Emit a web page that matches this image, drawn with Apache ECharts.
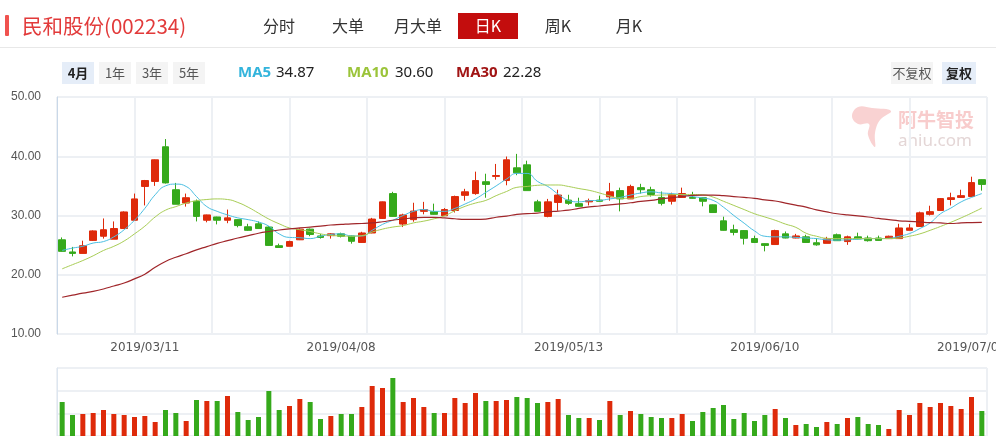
<!DOCTYPE html>
<html><head><meta charset="utf-8">
<script src="https://cdn.jsdelivr.net/npm/echarts@6/dist/echarts.min.js"></script>
<style>html,body{margin:0;padding:0;background:#fff}#c{width:996px;height:436px}</style>
</head><body><div id="c"></div>
<script>
const dates = [
'2019/02/27','2019/02/28',
'2019/03/01','2019/03/04','2019/03/05','2019/03/06','2019/03/07','2019/03/08','2019/03/11','2019/03/12','2019/03/13','2019/03/14','2019/03/15','2019/03/18','2019/03/19','2019/03/20','2019/03/21','2019/03/22','2019/03/25','2019/03/26','2019/03/27','2019/03/28','2019/03/29',
'2019/04/01','2019/04/02','2019/04/03','2019/04/04','2019/04/08','2019/04/09','2019/04/10','2019/04/11','2019/04/12','2019/04/15','2019/04/16','2019/04/17','2019/04/18','2019/04/19','2019/04/22','2019/04/23','2019/04/24','2019/04/25','2019/04/26','2019/04/29','2019/04/30',
'2019/05/06','2019/05/07','2019/05/08','2019/05/09','2019/05/10','2019/05/13','2019/05/14','2019/05/15','2019/05/16','2019/05/17','2019/05/20','2019/05/21','2019/05/22','2019/05/23','2019/05/24','2019/05/27','2019/05/28','2019/05/29','2019/05/30','2019/05/31',
'2019/06/03','2019/06/04','2019/06/05','2019/06/06','2019/06/10','2019/06/11','2019/06/12','2019/06/13','2019/06/14','2019/06/17','2019/06/18','2019/06/19','2019/06/20','2019/06/21','2019/06/24','2019/06/25','2019/06/26','2019/06/27','2019/06/28',
'2019/07/01','2019/07/02','2019/07/03','2019/07/04','2019/07/05','2019/07/08','2019/07/09'
];
const xLabels = ['2019/03/11','2019/04/08','2019/05/13','2019/06/10','2019/07/08'];

const opens = [25.9,23.85,23.6,25.8,26.5,26.0,27.8,29.2,34.9,35.75,41.6,34.35,32.1,32.4,29.2,29.75,29.2,29.3,28.1,28.6,28.05,24.9,24.8,
25.9,27.7,26.55,26.6,26.9,26.55,25.45,27.05,29.5,33.7,28.55,29.3,30.7,30.65,29.95,30.85,33.4,33.7,35.7,36.6,35.9,38.05,38.55,
32.3,29.85,32.2,32.6,32.0,32.3,32.6,33.15,34.2,32.8,34.7,34.35,33.05,32.4,33.05,33.05,33.0,31.8,29.1,27.6,27.45,26.1,
25.25,25.1,26.9,26.2,26.4,25.4,25.3,26.75,25.6,26.4,26.2,26.2,26.1,26.1,27.5,28.15,30.2,30.85,32.7,33.05,33.2,36.05];
const closes = [23.95,23.6,24.9,27.4,27.6,27.8,30.6,32.8,35.9,39.4,35.5,31.9,33.0,29.85,30.1,29.2,29.6,28.3,27.5,27.8,24.95,24.6,25.6,
27.7,26.8,26.3,26.9,26.5,25.65,27.05,29.4,32.3,29.85,30.1,30.75,31.0,30.2,31.0,33.2,34.0,35.9,35.25,36.75,39.4,37.2,34.2,
30.7,32.3,33.45,32.05,31.55,32.5,32.4,34.0,32.8,34.9,34.35,33.55,32.05,33.55,33.7,32.9,32.4,30.5,27.5,27.15,26.15,25.45,
24.95,27.45,26.2,26.55,25.45,25.05,26.05,25.75,26.4,26.05,25.75,25.8,26.5,27.9,27.9,30.45,30.65,32.85,33.0,33.35,35.55,35.25];
const lows = [23.9,23.1,23.6,25.7,26.1,26.0,27.8,29.1,31.7,35.0,35.4,31.9,31.5,29.0,28.85,28.5,28.7,28.0,27.4,27.8,24.9,24.55,24.8,
25.85,26.5,26.1,26.1,26.3,25.25,25.4,27.0,29.45,29.8,28.05,28.95,30.2,30.15,29.95,30.5,32.5,33.5,33.0,36.05,35.1,36.8,34.2,
30.7,29.7,30.8,31.8,31.5,31.7,32.35,32.5,30.7,32.8,33.7,33.2,31.7,31.85,33.0,32.85,31.55,30.45,27.45,26.65,25.1,25.35,
23.95,25.1,26.15,26.15,25.4,24.9,25.3,25.7,25.05,26.0,25.6,25.75,26.1,26.1,27.5,28.1,30.0,30.8,31.7,33.0,33.15,34.2];
const highs = [26.3,24.7,25.75,27.5,29.5,29.0,30.7,33.7,36.0,39.45,42.9,35.5,33.7,32.7,30.15,29.8,31.0,29.35,28.6,29.0,28.2,25.25,25.75,
27.85,27.8,26.9,27.0,27.1,26.6,27.25,29.6,32.35,34.0,30.3,32.15,32.3,32.0,31.25,33.35,34.5,37.4,37.05,38.7,39.95,40.4,39.25,
32.65,32.8,34.35,33.5,33.0,32.85,33.35,35.5,34.7,35.2,35.35,34.85,34.05,33.85,34.7,34.0,33.05,31.85,29.8,28.45,27.5,26.6,
25.3,27.6,27.3,26.9,26.75,26.15,26.4,26.95,26.6,27.1,26.6,26.6,26.6,28.6,28.55,30.65,31.65,32.95,33.85,34.35,36.55,36.1];

const volumes = [102,63,66,69,78,66,63,57,60,42,78,69,45,108,105,105,120,72,48,57,135,78,90,111,102,51,60,66,66,87,
150,144,174,102,114,87,69,69,114,99,129,105,105,108,117,114,99,102,111,63,54,54,48,105,63,75,66,57,54,54,
66,45,72,84,93,51,69,45,63,81,54,33,36,27,42,36,54,57,36,33,21,78,63,99,87,99,90,81,117,75];

const ma5 = [24.1,24.5,24.8,25.35,25.6,26.4,27.6,29.2,31.2,33.5,35.0,35.3,34.9,33.2,31.5,30.7,30.1,29.6,29.3,28.9,28.2,26.9,26.3,
26.25,26.1,26.5,26.8,26.9,26.55,26.55,27.5,28.5,29.2,30.0,30.7,31.0,30.7,30.7,31.2,31.95,32.8,33.9,35.0,36.15,37.1,37.1,
35.75,34.9,33.6,32.55,32.3,32.5,32.55,32.8,33.05,33.45,33.8,34.0,33.8,33.7,33.5,33.2,32.95,32.55,31.4,30.0,28.7,27.4,
26.5,26.4,26.4,26.3,26.2,26.1,25.9,25.85,25.9,26.0,26.1,26.1,26.15,26.5,26.95,27.8,28.75,30.3,31.25,32.3,33.05,33.7];
const ma10 = [21.0,21.7,22.4,23.2,24.1,24.8,25.7,26.9,28.2,29.75,30.9,31.5,32.1,32.5,32.7,32.8,32.7,32.2,31.4,30.4,29.4,28.6,27.9,
27.6,27.3,26.9,26.65,26.55,26.5,26.6,27.2,27.7,28.05,28.3,28.75,29.05,29.45,29.95,30.8,31.55,32.1,32.55,33.35,34.05,34.75,34.9,
35.1,35.15,35.15,34.9,34.55,34.25,33.8,33.3,32.9,32.9,33.2,33.35,33.45,33.5,33.55,33.55,33.5,33.1,32.4,31.7,31.0,30.3,
29.75,29.2,28.55,28.0,27.0,26.5,26.15,26.1,26.1,26.1,26.1,26.1,26.1,26.2,26.5,26.9,27.5,28.15,28.85,29.6,30.4,31.25];
const ma30 = [16.2,16.55,16.9,17.2,17.6,18.1,18.6,19.3,20.1,21.25,22.25,22.95,23.55,24.2,24.75,25.3,25.75,26.2,26.6,27.0,27.3,27.55,27.75,
27.9,28.05,28.2,28.4,28.5,28.6,28.65,28.75,28.95,29.2,29.4,29.6,29.7,29.7,29.6,29.45,29.35,29.35,29.4,29.7,29.9,30.2,30.3,
30.4,30.6,30.75,30.9,31.2,31.45,31.6,31.8,31.95,32.15,32.4,32.55,32.8,33.0,33.2,33.4,33.45,33.45,33.35,33.2,33.05,32.9,
32.65,32.45,32.1,31.75,31.4,30.95,30.6,30.3,30.1,29.95,29.75,29.5,29.3,29.1,29.0,28.9,28.8,28.75,28.65,28.75,28.8,28.85];

const RED = '#de2a0a', GREEN = '#35a91b';
const chart = echarts.init(document.getElementById('c'), null, {renderer: 'canvas'});

const candleData = dates.map((d, i) => [opens[i], closes[i], lows[i], highs[i]]);
const volData = volumes.map((v, i) => ({value: v, itemStyle: {color: closes[i] >= opens[i] ? RED : GREEN}}));
const GRIDC = '#edf0f4';
const CJK = '"Noto Sans CJK SC", "Noto Sans", sans-serif';

const btn = (x, w, label, active) => [
  {type: 'rect', shape: {x: x, y: 62, width: w, height: 22}, style: {fill: active ? '#e5edf8' : '#f4f4f4'}},
  {type: 'text', x: x + w / 2, y: 73, style: {text: label, font: (active ? 'bold ' : '') + '13px ' + CJK, fill: active ? '#222' : '#555', textAlign: 'center', textVerticalAlign: 'middle'}}
];
const tab = (cx, label) => ({type: 'text', x: cx, y: 26, style: {text: label, font: '16px ' + CJK, fill: '#333', textAlign: 'center', textVerticalAlign: 'middle'}});

const option = {
  animation: false,
  backgroundColor: '#fff',
  grid: [
    {left: 57, right: 9, top: 97, height: 237, outerBoundsMode: 'none', containLabel: false},
    {left: 57, right: 9, top: 368, height: 68, outerBoundsMode: 'none', containLabel: false}
  ],
  xAxis: [
    {type: 'category', gridIndex: 0, data: dates, boundaryGap: true,
      axisLine: {show: false}, axisTick: {show: false}, splitLine: {show: false},
      axisLabel: {interval: (i, v) => xLabels.indexOf(v) >= 0, color: '#555', fontSize: 12, margin: 8, fontFamily: 'DejaVu Sans', hideOverlap: false}},
    {type: 'value', gridIndex: 0, min: 0, max: 12, interval: 1, position: 'top',
      axisLine: {show: false}, axisTick: {show: false}, axisLabel: {show: false},
      splitLine: {show: true, lineStyle: {color: GRIDC, width: 2}}},
    {type: 'category', gridIndex: 1, data: dates, boundaryGap: true,
      axisLine: {show: false}, axisTick: {show: false}, axisLabel: {show: false}, splitLine: {show: false}},
    {type: 'value', gridIndex: 1, min: 0, max: 1, interval: 1, position: 'top',
      axisLine: {show: false}, axisTick: {show: false}, axisLabel: {show: false},
      splitLine: {show: true, lineStyle: {color: GRIDC, width: 2}}}
  ],
  yAxis: [
    {type: 'value', gridIndex: 0, min: 10, max: 50, interval: 10,
      axisLine: {show: true, lineStyle: {color: '#c9d8e8', width: 1}}, axisTick: {show: false},
      axisLabel: {formatter: v => v.toFixed(2), align: 'left', margin: 46, color: '#555', fontSize: 12, fontFamily: 'Liberation Sans'},
      splitLine: {show: true, lineStyle: {color: GRIDC, width: 2}}},
    {type: 'value', gridIndex: 1, min: 0, max: 204, interval: 68,
      axisLine: {show: true, lineStyle: {color: '#dde6f0', width: 1}}, axisTick: {show: false}, axisLabel: {show: false},
      splitLine: {show: true, lineStyle: {color: GRIDC, width: 2}}}
  ],
  series: [
    {type: 'candlestick', name: 'K', xAxisIndex: 0, yAxisIndex: 0, data: candleData, barWidth: 7,
      itemStyle: {color: RED, color0: GREEN, borderColor: RED, borderColor0: GREEN, borderWidth: 1}},
    {type: 'line', name: 'MA5', xAxisIndex: 0, yAxisIndex: 0, data: ma5, smooth: true, symbol: 'none',
      lineStyle: {color: '#4bbfe2', width: 1}},
    {type: 'line', name: 'MA10', xAxisIndex: 0, yAxisIndex: 0, data: ma10, smooth: true, symbol: 'none',
      lineStyle: {color: '#a8cd55', width: 1}},
    {type: 'line', name: 'MA30', xAxisIndex: 0, yAxisIndex: 0, data: ma30, smooth: true, symbol: 'none',
      lineStyle: {color: '#a0262a', width: 1.2}},
    {type: 'bar', name: 'VOL', xAxisIndex: 2, yAxisIndex: 1, data: volData, barWidth: 5}
  ],
  graphic: [
    // header
    {type: 'rect', shape: {x: 5, y: 15, width: 4, height: 21, r: 1}, style: {fill: '#f0524f'}},
    {type: 'text', x: 22, y: 26, style: {text: '民和股份(002234)', font: '20.5px ' + CJK, fill: '#e23a3a', textVerticalAlign: 'middle'}},
    tab(279, '分时'), tab(348, '大单'), tab(418, '月大单'),
    {type: 'rect', shape: {x: 458, y: 13, width: 60, height: 26}, style: {fill: '#c30d0d'}},
    {type: 'text', x: 488, y: 26, style: {text: '日K', font: '16px ' + CJK, fill: '#fff', textAlign: 'center', textVerticalAlign: 'middle'}},
    tab(558, '周K'), tab(629, '月K'),
    {type: 'line', shape: {x1: 0, y1: 47.5, x2: 996, y2: 47.5}, style: {stroke: '#e8e8e8', lineWidth: 1}},
    // toolbar
    ...btn(62, 32, '4月', true), ...btn(99, 32, '1年', false), ...btn(136, 32, '3年', false), ...btn(173, 32, '5年', false),
    {type: 'text', x: 238, y: 73, style: {text: 'MA5', font: 'bold 15px "Noto Sans", sans-serif', fill: '#33b4dc', textVerticalAlign: 'middle'}},
    {type: 'text', x: 276, y: 73, style: {text: '34.87', font: '15px "Noto Sans", sans-serif', fill: '#222', textVerticalAlign: 'middle'}},
    {type: 'text', x: 347, y: 73, style: {text: 'MA10', font: 'bold 15px "Noto Sans", sans-serif', fill: '#9bc43a', textVerticalAlign: 'middle'}},
    {type: 'text', x: 395, y: 73, style: {text: '30.60', font: '15px "Noto Sans", sans-serif', fill: '#222', textVerticalAlign: 'middle'}},
    {type: 'text', x: 456, y: 73, style: {text: 'MA30', font: 'bold 15px "Noto Sans", sans-serif', fill: '#a11414', textVerticalAlign: 'middle'}},
    {type: 'text', x: 503, y: 73, style: {text: '22.28', font: '15px "Noto Sans", sans-serif', fill: '#222', textVerticalAlign: 'middle'}},
    {type: 'rect', shape: {x: 891, y: 62, width: 42, height: 22}, style: {fill: '#f4f4f4'}},
    {type: 'text', x: 912, y: 73, style: {text: '不复权', font: '13px ' + CJK, fill: '#555', textAlign: 'center', textVerticalAlign: 'middle'}},
    {type: 'rect', shape: {x: 942, y: 62, width: 34, height: 22}, style: {fill: '#e5edf8'}},
    {type: 'text', x: 959, y: 73, style: {text: '复权', font: 'bold 13px ' + CJK, fill: '#222', textAlign: 'center', textVerticalAlign: 'middle'}},
    // watermark
    {type: 'polygon', z: -1, shape: {smooth: 0.4, points: [[852,116],[858,107],[872,108],[891,111],[880,120],[875,133],[875,147],[868,135],[869,124],[858,124]]},
      style: {fill: '#f9d2d2'}},
    {type: 'text', z: -1, x: 898, y: 120, style: {text: '阿牛智投', font: 'bold 19px ' + CJK, fill: '#f8cccc', textVerticalAlign: 'middle'}},
    {type: 'text', z: -1, x: 898, y: 141, style: {text: 'aniu.com', font: '17px "Noto Sans", sans-serif', fill: '#e4d6d6', textVerticalAlign: 'middle'}}
  ]
};
chart.setOption(option);
</script>
</body></html>
